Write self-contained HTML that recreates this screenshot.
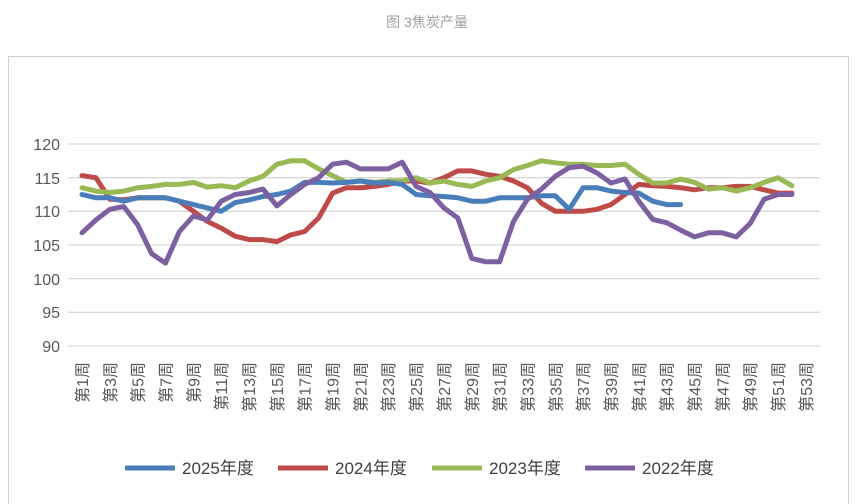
<!DOCTYPE html>
<html><head><meta charset="utf-8"><style>
body{margin:0;background:#fff;}
svg{display:block;font-family:"Liberation Sans","Noto Sans CJK SC",sans-serif;}
</style></head><body>
<svg width="865" height="504" viewBox="0 0 865 504" xmlns="http://www.w3.org/2000/svg">
<text x="427" y="27" text-anchor="middle" font-size="14" fill="#a0a0a0">图 3焦炭产量</text>
<rect x="8.5" y="56.5" width="840" height="460" fill="none" stroke="#d0d0d0"/>
<g stroke="#d9d9d9" stroke-width="1.3">
<line x1="68" x2="820" y1="144" y2="144"/><line x1="68" x2="820" y1="177.7" y2="177.7"/>
<line x1="68" x2="820" y1="211.3" y2="211.3"/><line x1="68" x2="820" y1="245" y2="245"/>
<line x1="68" x2="820" y1="278.6" y2="278.6"/><line x1="68" x2="820" y1="312.3" y2="312.3"/>
<line x1="68" x2="820" y1="346" y2="346"/>
</g>
<g font-size="16" fill="#595959" text-anchor="end">
<text x="60" y="150">120</text><text x="60" y="184">115</text><text x="60" y="217">110</text>
<text x="60" y="251">105</text><text x="60" y="285">100</text><text x="60" y="318">95</text><text x="60" y="352">90</text>
</g>
<g font-size="16" fill="#595959" text-anchor="end">
<text transform="translate(88,362) rotate(-90)">第1周</text>
<text transform="translate(115.8,362) rotate(-90)">第3周</text>
<text transform="translate(143.7,362) rotate(-90)">第5周</text>
<text transform="translate(171.5,362) rotate(-90)">第7周</text>
<text transform="translate(199.4,362) rotate(-90)">第9周</text>
<text transform="translate(227.2,362) rotate(-90)">第11周</text>
<text transform="translate(255,362) rotate(-90)">第13周</text>
<text transform="translate(282.9,362) rotate(-90)">第15周</text>
<text transform="translate(310.7,362) rotate(-90)">第17周</text>
<text transform="translate(338.6,362) rotate(-90)">第19周</text>
<text transform="translate(366.4,362) rotate(-90)">第21周</text>
<text transform="translate(394.2,362) rotate(-90)">第23周</text>
<text transform="translate(422.1,362) rotate(-90)">第25周</text>
<text transform="translate(449.9,362) rotate(-90)">第27周</text>
<text transform="translate(477.8,362) rotate(-90)">第29周</text>
<text transform="translate(505.6,362) rotate(-90)">第31周</text>
<text transform="translate(533.4,362) rotate(-90)">第33周</text>
<text transform="translate(561.3,362) rotate(-90)">第35周</text>
<text transform="translate(589.1,362) rotate(-90)">第37周</text>
<text transform="translate(617,362) rotate(-90)">第39周</text>
<text transform="translate(644.8,362) rotate(-90)">第41周</text>
<text transform="translate(672.6,362) rotate(-90)">第43周</text>
<text transform="translate(700.5,362) rotate(-90)">第45周</text>
<text transform="translate(728.3,362) rotate(-90)">第47周</text>
<text transform="translate(756.2,362) rotate(-90)">第49周</text>
<text transform="translate(784,362) rotate(-90)">第51周</text>
<text transform="translate(811.8,362) rotate(-90)">第53周</text>
</g>
<g fill="none" stroke-width="5" stroke-linejoin="round" stroke-linecap="round">
<polyline stroke="#be4b48" points="82,175.6 95.9,177.7 109.8,199.2 123.8,199.9 137.7,197.8 151.6,197.8 165.5,197.8 179.4,201.2 193.4,211.3 207.3,221.4 221.2,228.1 235.1,236.2 249,239.6 263,239.6 276.9,241.6 290.8,234.9 304.7,231.5 318.6,218 332.6,193.1 346.5,187.7 360.4,187.7 374.3,186.4 388.2,184.4 402.2,181 416.1,181 430,183 443.9,177.7 457.8,170.9 471.8,170.9 485.7,174.3 499.6,176.3 513.5,181 527.4,187.7 541.4,203.2 555.3,211.3 569.2,211.3 583.1,211.3 597,209.3 611,204.6 624.9,194.5 638.8,184.4 652.7,185.7 666.6,186.4 680.6,187.7 694.5,189.8 708.4,187.7 722.3,187.7 736.2,186.4 750.2,186.4 764.1,189.8 778,193.1 791.9,193.1"/>
<polyline stroke="#98b954" points="82,187.7 95.9,191.1 109.8,192.5 123.8,191.1 137.7,187.7 151.6,186.4 165.5,184.4 179.4,184.4 193.4,182.4 207.3,187.1 221.2,185.7 235.1,187.7 249,181 263,176.3 276.9,164.2 290.8,160.8 304.7,160.8 318.6,168.9 332.6,175.6 346.5,182.4 360.4,181 374.3,182.4 388.2,181 402.2,181 416.1,177.7 430,183 443.9,181 457.8,184.4 471.8,186.4 485.7,181 499.6,177.7 513.5,169.6 527.4,165.5 541.4,160.8 555.3,162.8 569.2,164.2 583.1,164.2 597,165.5 611,165.5 624.9,164.2 638.8,174.3 652.7,183 666.6,183 680.6,179 694.5,182.4 708.4,189.1 722.3,187.7 736.2,191.1 750.2,187.7 764.1,182.4 778,177.7 791.9,185.7"/>
<polyline stroke="#4a7ebb" points="82,194.5 95.9,197.8 109.8,197.8 123.8,201.2 137.7,197.8 151.6,197.8 165.5,197.8 179.4,201.2 193.4,204.6 207.3,207.9 221.2,211.3 235.1,202.6 249,199.9 263,196.5 276.9,194.5 290.8,191.1 304.7,182.4 318.6,182.4 332.6,183 346.5,182.4 360.4,181 374.3,183 388.2,182.4 402.2,184.4 416.1,194.5 430,195.8 443.9,196.5 457.8,197.8 471.8,201.2 485.7,201.2 499.6,197.8 513.5,197.8 527.4,197.8 541.4,195.8 555.3,195.8 569.2,209.3 583.1,187.7 597,187.7 611,191.1 624.9,192.5 638.8,193.1 652.7,201.2 666.6,204.6 680.6,204.6"/>
<polyline stroke="#7d60a0" points="82,232.8 95.9,220 109.8,209.3 123.8,206.6 137.7,224.8 151.6,253.7 165.5,263.1 179.4,231.5 193.4,216 207.3,220 221.2,201.2 235.1,194.5 249,192.5 263,189.1 276.9,205.9 290.8,194.5 304.7,184.4 318.6,177.7 332.6,164.2 346.5,162.2 360.4,168.9 374.3,168.9 388.2,168.9 402.2,162.2 416.1,186.4 430,192.5 443.9,207.9 457.8,218 471.8,258.4 485.7,261.8 499.6,261.8 513.5,221.4 527.4,199.2 541.4,189.1 555.3,176.3 569.2,167.6 583.1,166.2 597,172.9 611,183 624.9,179 638.8,201.2 652.7,219.4 666.6,222.7 680.6,230.1 694.5,236.9 708.4,232.8 722.3,232.8 736.2,236.9 750.2,223.4 764.1,199.2 778,194.5 791.9,194.5"/>
</g>
<g font-size="17" fill="#404040">
<line x1="125" x2="175" y1="468" y2="468" stroke="#4a7ebb" stroke-width="5"/><text x="182" y="474">2025年度</text>
<line x1="278" x2="328" y1="468" y2="468" stroke="#be4b48" stroke-width="5"/><text x="335" y="474">2024年度</text>
<line x1="432" x2="482" y1="468" y2="468" stroke="#98b954" stroke-width="5"/><text x="489" y="474">2023年度</text>
<line x1="585" x2="635" y1="468" y2="468" stroke="#7d60a0" stroke-width="5"/><text x="642" y="474">2022年度</text>
</g>
</svg>
</body></html>
